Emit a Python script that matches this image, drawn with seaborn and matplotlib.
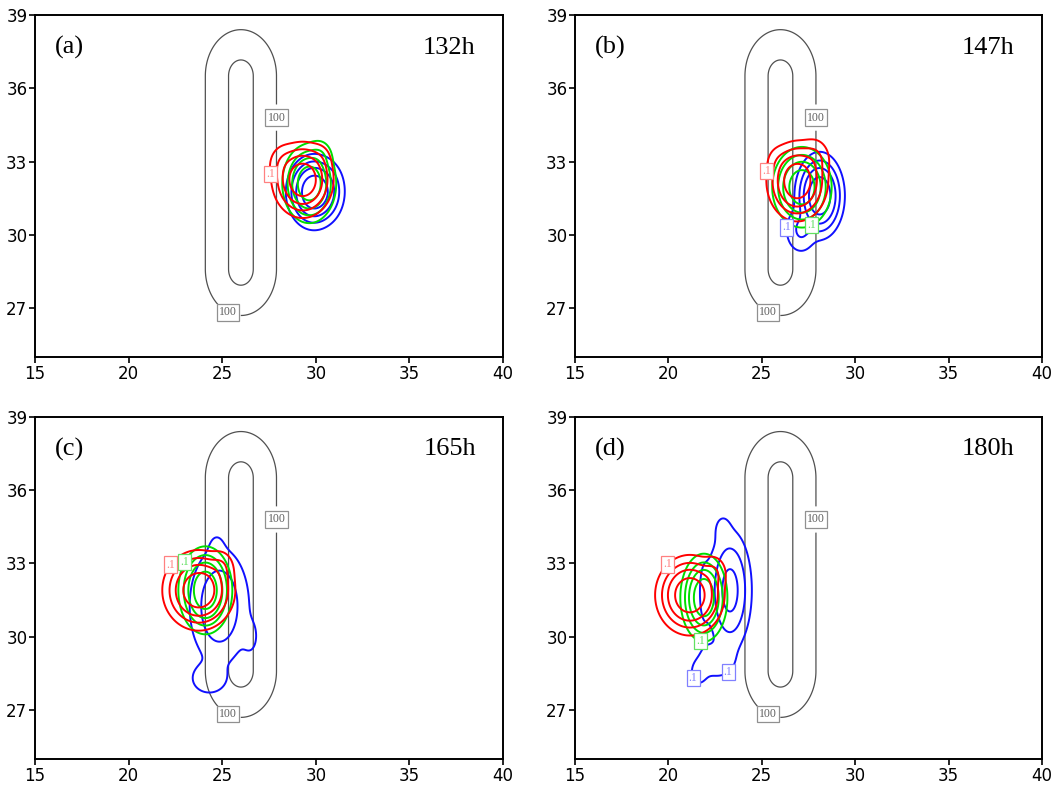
import numpy as np
import matplotlib
matplotlib.use("Agg")
import matplotlib.pyplot as plt
import seaborn as sns

# ---------------- data ----------------
panel_tags = ["(a)", "(b)", "(c)", "(d)"]
panel_times = ["132h", "147h", "165h", "180h"]
x_ticks = [15, 20, 25, 30, 35, 40]
y_ticks = [27, 30, 33, 36, 39]
x_range = [15, 40]
y_range = [25, 39]

# idealised ridge (terrain height): axis x, y-extent of crest, peak, e-folding width
ridge_x = 26.0
ridge_y = [28.6, 36.5]
ridge_peak = 220.0
ridge_width = 2.14
ridge_levels = [100, 200]
ridge_label_pos = [(27.95, 34.8), (25.3, 26.8)]

# concentration contour levels
conc_levels = [0.1, 0.5, 1.5, 4.0]

# plume components per panel: (x, y, sx, sy, amplitude)
red_blobs = [
    [(29.3, 32.25, 0.55, 0.52, 9.0), (28.3, 32.9, 0.40, 0.40, 0.4), (30.2, 33.1, 0.35, 0.35, 0.2)],
    [(26.9, 32.2, 0.55, 0.55, 9.0), (27.8, 33.1, 0.40, 0.40, 0.6), (25.9, 33.0, 0.35, 0.35, 0.2)],
    [(23.75, 31.9, 0.65, 0.55, 9.0), (23.95, 32.25, 0.20, 0.15, 2.0), (24.9, 32.8, 0.35, 0.35, 0.5)],
    [(21.15, 31.7, 0.62, 0.55, 9.0), (22.4, 32.6, 0.35, 0.35, 0.5)],
]
green_blobs = [
    [(29.65, 32.1, 0.48, 0.54, 9.0), (30.2, 33.2, 0.35, 0.35, 0.4)],
    [(27.15, 31.95, 0.53, 0.55, 9.0)],
    [(24.1, 31.9, 0.48, 0.60, 9.0)],
    [(21.9, 31.6, 0.42, 0.60, 9.0)],
]
blue_blobs = [
    [(29.9, 31.75, 0.50, 0.52, 9.0), (30.6, 31.8, 0.40, 0.50, 1.0)],
    [(28.1, 31.6, 0.45, 0.60, 9.0), (27.1, 30.2, 0.40, 0.45, 0.6)],
    [(24.85, 31.25, 0.70, 1.05, 1.3), (24.7, 33.7, 0.30, 0.40, 0.10),
     (24.3, 28.3, 0.60, 0.40, 0.28), (26.5, 30.0, 0.30, 0.50, 0.15)],
    [(23.3, 31.9, 0.47, 0.99, 2.2), (22.6, 29.0, 0.70, 0.50, 0.20),
     (21.6, 28.5, 0.30, 0.35, 0.15), (21.9, 31.8, 0.30, 1.40, 0.12),
     (22.9, 34.4, 0.30, 0.40, 0.15)],
]

red_label_pos = [[(27.6, 32.5)], [(25.3, 32.6)], [(22.0, 33.1)], [(19.9, 33.0)]]
green_label_pos = [[], [(27.6, 30.5)], [(23.1, 33.0)], [(21.7, 29.8)]]
blue_label_pos = [[], [(26.45, 30.3)], [], [(21.3, 28.3), (23.15, 28.6)]]

# ---------------- style ----------------
sns.set_theme(style="ticks")
plt.rcParams["font.family"] = ["DejaVu Sans"]
plt.rcParams["axes.linewidth"] = 1.4
plt.rcParams["axes.edgecolor"] = "black"
plt.rcParams["xtick.color"] = "black"
plt.rcParams["ytick.color"] = "black"
plt.rcParams["xtick.major.size"] = 4
plt.rcParams["ytick.major.size"] = 4
plt.rcParams["xtick.major.width"] = 1.2
plt.rcParams["ytick.major.width"] = 1.2

series = [
    ("blue", blue_blobs, blue_label_pos, "#1010ff", "#8080ff"),
    ("green", green_blobs, green_label_pos, "#00dd00", "#60e060"),
    ("red", red_blobs, red_label_pos, "#ff0000", "#ff8080"),
]

xs = np.arange(x_range[0], x_range[1] + 0.001, 0.04)
ys = np.arange(y_range[0], y_range[1] + 0.001, 0.04)
X, Y = np.meshgrid(xs, ys)


def plume(blobs):
    f = np.zeros_like(X)
    for (bx, by, sx, sy, a) in blobs:
        f += a * np.exp(-((X - bx) ** 2 / (2 * sx ** 2) + (Y - by) ** 2 / (2 * sy ** 2)))
    return f


def style_labels(labels, txt_color, edge_color):
    for t in labels:
        t.set_rotation(0)
        t.set_family("Liberation Serif")
        t.set_color(txt_color)
        t.set_bbox(dict(boxstyle="square,pad=0.18", fc="white", ec=edge_color, lw=0.9))


dist = np.sqrt((X - ridge_x) ** 2 + (Y - np.clip(Y, ridge_y[0], ridge_y[1])) ** 2)
terrain = ridge_peak * np.exp(-(dist / ridge_width) ** 2)

fig = plt.figure(figsize=(10.63, 7.86), dpi=100)
rects = [
    [0.0329, 0.5458, 0.4403, 0.4351],
    [0.5409, 0.5458, 0.4393, 0.4351],
    [0.0329, 0.0345, 0.4403, 0.4351],
    [0.5409, 0.0345, 0.4393, 0.4351],
]

for i in range(4):
    ax = fig.add_axes(rects[i])
    ax.set_xlim(*x_range)
    ax.set_ylim(*y_range)
    ax.set_xticks(x_ticks)
    ax.set_yticks(y_ticks)
    ax.tick_params(labelsize=12, direction="out", pad=1.5, labelcolor="black")

    cs = ax.contour(X, Y, terrain, levels=ridge_levels, colors="#505050", linewidths=0.9)
    lbl = ax.clabel(cs, levels=[100], manual=ridge_label_pos, fmt="%d", inline=True,
                    inline_spacing=2, fontsize=8.5)
    style_labels(lbl, "#606060", "#909090")

    for name, blobs, lpos, col, light in series:
        f = plume(blobs[i])
        cs = ax.contour(X, Y, f, levels=conc_levels, colors=col, linewidths=1.4)
        if lpos[i]:
            lbl = ax.clabel(cs, levels=[0.1], manual=lpos[i], fmt={0.1: ".1"}, inline=True,
                            inline_spacing=1, fontsize=8.5)
            style_labels(lbl, light, light)

    ax.text(0.043, 0.905, panel_tags[i], transform=ax.transAxes, fontsize=19,
            family="Liberation Serif", ha="left", va="center", color="black")
    ax.text(0.942, 0.905, panel_times[i], transform=ax.transAxes, fontsize=19,
            family="Liberation Serif", ha="right", va="center", color="black")

fig.savefig("out.png", dpi=100)
